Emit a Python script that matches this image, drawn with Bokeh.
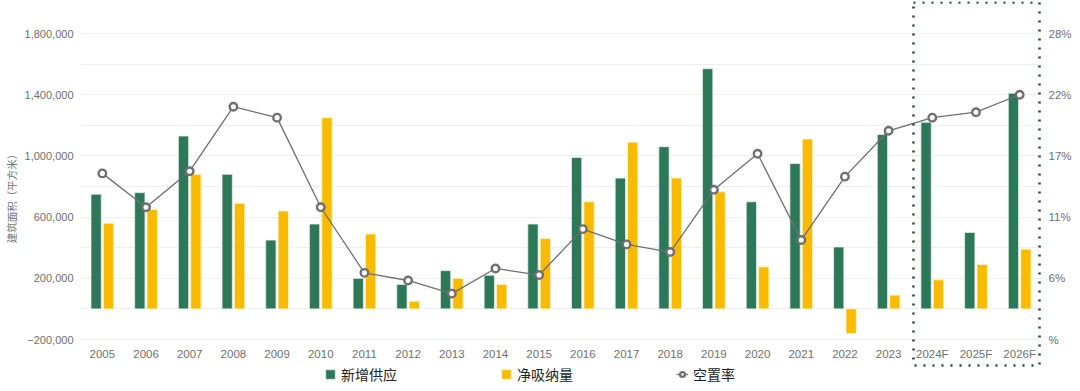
from bokeh.plotting import figure
from bokeh.models import (ColumnDataSource, Range1d, LinearAxis, FixedTicker, Legend,
                          LegendItem, BoxAnnotation, NumeralTickFormatter)
from bokeh.core.properties import value
from bokeh.transform import dodge
from bokeh.embed import file_html
from bokeh.resources import INLINE

years = ["2005", "2006", "2007", "2008", "2009", "2010", "2011", "2012", "2013", "2014",
         "2015", "2016", "2017", "2018", "2019", "2020", "2021", "2022", "2023",
         "2024F", "2025F", "2026F"]
supply = [750000, 760000, 1130000, 880000, 450000, 555000, 200000, 160000, 250000, 220000,
          555000, 990000, 855000, 1060000, 1570000, 700000, 950000, 405000, 1140000,
          1220000, 500000, 1410000]
absorption = [560000, 650000, 880000, 690000, 640000, 1250000, 490000, 50000, 200000, 160000,
              460000, 700000, 1090000, 855000, 765000, 275000, 1110000, -160000, 90000,
              190000, 290000, 390000]
vacancy = [15.2, 12.1, 15.4, 21.3, 20.3, 12.1, 6.1, 5.4, 4.2, 6.5,
           5.9, 10.1, 8.7, 8.0, 13.7, 17.0, 9.1, 14.9, 19.1,
           20.3, 20.8, 22.4]
left_ticks = [-200000, 200000, 600000, 1000000, 1400000, 1800000]
left_labels = ["\u2212200,000", "200,000", "600,000", "1,000,000", "1,400,000", "1,800,000"]
grid_ticks = [-200000, 0, 200000, 400000, 600000, 800000, 1000000, 1200000, 1400000, 1600000, 1800000]
right_ticks = [0, 5.6, 11.2, 16.8, 22.4, 28]
right_labels = ["%", "6%", "11%", "17%", "22%", "28%"]

GREEN = "#2c7858"
YELLOW = "#f8bb00"
GRAY = "#6e6e73"
CJK = "Noto Sans CJK SC"
NUM = "Liberation Sans"
TICKC = "#6f6f6f"

# layout (pixels inside the canvas): frame spans the whole height so that
# the highlight box and legend can be drawn without clipping
W, H = 1076, 390
FRAME_TOP, FRAME_BOTTOM = 1, H          # canvas y of frame edges
GRID_TOP, GRID_BOTTOM = 33, 339         # canvas y of 1,800,000 / -200,000
L_LO, L_HI = -200000, 1800000
R_LO, R_HI = 0, 28
upp_l = (L_HI - L_LO) / (GRID_BOTTOM - GRID_TOP)
upp_r = (R_HI - R_LO) / (GRID_BOTTOM - GRID_TOP)
y_lo = L_LO - (FRAME_BOTTOM - GRID_BOTTOM) * upp_l
y_hi = L_HI + (GRID_TOP - FRAME_TOP) * upp_l
r_lo = R_LO - (FRAME_BOTTOM - GRID_BOTTOM) * upp_r
r_hi = R_HI + (GRID_TOP - FRAME_TOP) * upp_r
year_label_y = L_LO - 14 * upp_l
box_top = L_HI + (GRID_TOP - 2) * upp_l
box_bottom = L_LO - (365 - GRID_BOTTOM) * upp_l

src = ColumnDataSource(dict(year=years, supply=supply, absorption=absorption, vacancy=vacancy,
                            label_y=[year_label_y] * len(years)))

p = figure(x_range=years, y_range=Range1d(y_lo, y_hi), width=W, height=H,
           output_backend="svg", toolbar_location=None,
           min_border_left=80, min_border_right=35, min_border_top=FRAME_TOP,
           min_border_bottom=0)
p.outline_line_color = None
p.xgrid.grid_line_color = None
p.ygrid.ticker = FixedTicker(ticks=grid_ticks)
p.ygrid.grid_line_color = "#eeeeee"
p.ygrid.grid_line_width = 1

p.extra_y_ranges = {"vac": Range1d(r_lo, r_hi)}

b1 = p.vbar(x=dodge("year", -0.142, range=p.x_range), top="supply", bottom=0, width=0.236,
            source=src, fill_color=GREEN, line_color="#e8f0ec", line_width=0.8)
b2 = p.vbar(x=dodge("year", 0.142, range=p.x_range), top="absorption", bottom=0, width=0.236,
            source=src, fill_color=YELLOW, line_color="#fff3cc", line_width=0.8)
ln = p.line(x="year", y="vacancy", source=src, y_range_name="vac", line_color=GRAY, line_width=1.3)
sc = p.scatter(x="year", y="vacancy", source=src, y_range_name="vac", size=7.5,
               fill_color="white", line_color=GRAY, line_width=2.4)

# category labels (x axis)
p.text(x="year", y="label_y", text="year", source=src, text_align="center",
       text_baseline="middle", text_font=value(NUM), text_font_size=value("11.5px"),
       text_color=TICKC)
p.xaxis.visible = False

# left axis
ya = p.yaxis[0]
ya.ticker = FixedTicker(ticks=left_ticks)
ya.formatter = NumeralTickFormatter(format="0,0")
ya.major_label_overrides = {t: l for t, l in zip(left_ticks, left_labels)}
ya.axis_line_color = None
ya.major_tick_line_color = None
ya.minor_tick_line_color = None
ya.major_tick_out = 0
ya.major_tick_in = 0
ya.major_label_standoff = 7
ya.major_label_text_font = NUM
ya.major_label_text_font_size = "11px"
ya.major_label_text_color = TICKC
ya.axis_label = "建筑面积（平方米）"
ya.axis_label_text_font = CJK
ya.axis_label_text_font_size = "10.5px"
ya.axis_label_text_font_style = "normal"
ya.axis_label_text_color = "#777777"
ya.axis_label_standoff = 3

# right axis
ra = LinearAxis(y_range_name="vac", ticker=FixedTicker(ticks=right_ticks),
                major_label_overrides={t: l for t, l in zip(right_ticks, right_labels)})
ra.axis_line_color = None
ra.major_tick_line_color = None
ra.minor_tick_line_color = None
ra.major_tick_out = 0
ra.major_tick_in = 0
ra.major_label_standoff = 7
ra.major_label_text_font = NUM
ra.major_label_text_font_size = "11.5px"
ra.major_label_text_color = TICKC
p.add_layout(ra, "right")

# forecast highlight box
box = BoxAnnotation(left=833, right=959, top=box_top, bottom=box_bottom,
                    left_units="screen", right_units="screen",
                    top_units="data", bottom_units="data",
                    fill_color=None, fill_alpha=0, line_color="#1e4d3a", line_alpha=1,
                    line_width=2.6, line_dash="2 7", level="overlay")
p.add_layout(box)

legend = Legend(items=[LegendItem(label="新增供应", renderers=[b1]),
                       LegendItem(label="净吸纳量", renderers=[b2]),
                       LegendItem(label="空置率", renderers=[ln, sc])],
                orientation="horizontal", location=(244, 6),
                padding=0, margin=0, spacing=103, glyph_width=12, glyph_height=12,
                label_standoff=5, label_height=14,
                label_text_font=CJK, label_text_font_size="14px", label_text_color="#222222",
                border_line_color=None, background_fill_alpha=0)
p.add_layout(legend, "center")

open("out.html", "w").write(file_html(p, INLINE))
